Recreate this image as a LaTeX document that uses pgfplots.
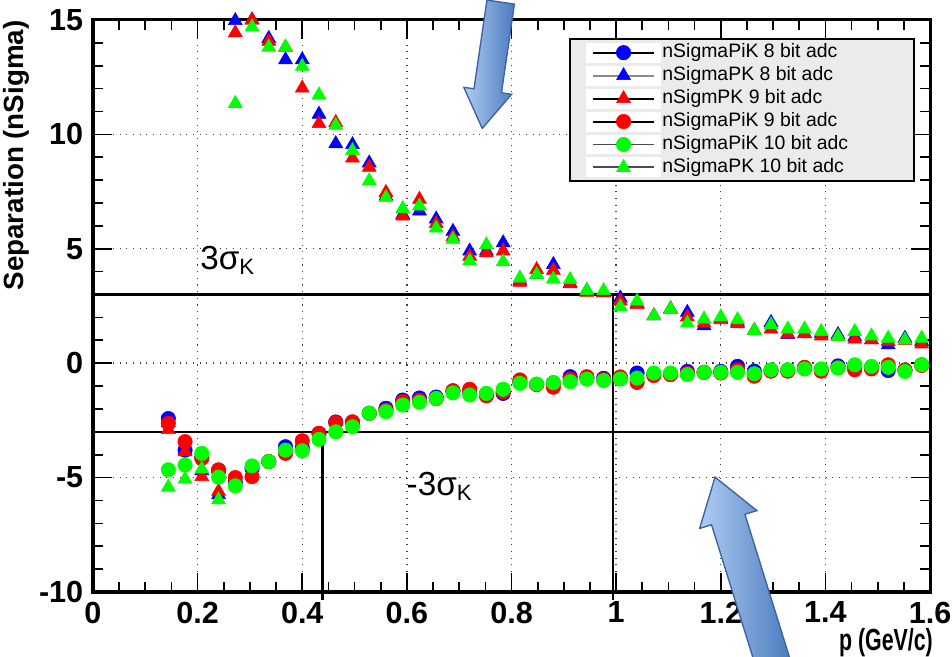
\documentclass[border=0pt]{standalone}
\usepackage{fontspec}
\setmainfont{Liberation Sans}
\usepackage{pgfplots}
\usepackage{pgfplotstable}
\pgfplotsset{compat=1.18}
\usetikzlibrary{calc}

\definecolor{rblue}{RGB}{0,0,255}
\definecolor{rred}{RGB}{255,0,0}
\definecolor{rgreen}{RGB}{0,255,0}
\definecolor{arlight}{RGB}{175,205,242}
\definecolor{ardark}{RGB}{74,122,190}
\definecolor{arline}{RGB}{62,100,165}

% p, then nSigma for each of the six series
\pgfplotstableread{
p     pik8   pk8    pk9    pik9   pik10  pk10
0.144 -2.42  -2.60  -2.90  -2.63  -4.66  -5.42
0.176 -3.80  -3.80  -3.87  -3.43  -4.45  -5.07
0.208 -4.10  -4.70  -4.96  -4.16  -3.94  -4.63
0.240 -4.70  -5.75  -5.60  -4.66  -4.98  -5.97
0.272 -5.20  14.97  14.44  -5.00  -5.36  11.35
0.304 -4.60  15.00  15.00  -4.96  -4.49  14.69
0.336 -4.30  14.19  14.07  -4.30  -4.30  13.81
0.368 -3.65  13.26  13.81  -3.94  -3.80  13.81
0.400 -3.70  13.26  12.02  -3.39  -3.83  12.97
0.432 -3.07  10.88  10.47  -3.07  -3.33  11.72
0.464 -2.57   9.59  10.52  -2.60  -3.00  10.40
0.496 -2.60   9.55   8.96  -2.56  -2.78   9.29
0.528 -2.19   8.75   8.56  -2.19  -2.19   7.97
0.560 -1.97   7.30   7.46  -2.05  -2.12   7.24
0.592 -1.61   6.50   6.43  -1.68  -1.83   6.75
0.624 -1.52   6.65   7.16  -1.62  -1.71   6.87
0.656 -1.48   6.30   6.10  -1.55  -1.54   5.90
0.688 -1.22   5.76   5.52  -1.20  -1.30   5.41
0.720 -1.26   4.90   4.67  -1.14  -1.39   4.47
0.752 -1.36   4.90   4.82  -1.43  -1.32   5.17
0.784 -1.32   5.26   4.90  -1.25  -1.14   4.43
0.816 -0.83   3.60   3.53  -0.73  -0.88   3.72
0.848 -0.93   3.87   4.09  -0.93  -0.91   3.87
0.880 -0.86   4.31   4.06  -1.05  -0.85   3.68
0.912 -0.59   3.50   3.47  -0.70  -0.81   3.65
0.944 -0.66   3.17   3.10  -0.59  -0.70   3.17
0.976 -0.66   3.08   3.08  -0.72  -0.76   3.17
1.008 -0.66   2.85   2.71  -0.60  -0.69   2.46
1.040 -0.43   2.60   2.56  -0.84  -0.65   2.71
1.072 -0.49   2.07   2.07  -0.54  -0.43   2.07
1.104 -0.47   2.37   2.37  -0.50  -0.43   2.37
1.136 -0.36   2.22   2.02  -0.45  -0.50   1.75
1.168 -0.40   1.63   1.75  -0.40  -0.40   1.93
1.200 -0.36   1.95   1.90  -0.43  -0.40   2.02
1.232 -0.14   1.80   1.72  -0.29  -0.40   1.90
1.264 -0.35   1.43   1.43  -0.57  -0.46   1.43
1.296 -0.31   1.78   1.49  -0.35  -0.29   1.68
1.328 -0.31   1.25   1.28  -0.35  -0.29   1.49
1.360 -0.22   1.30   1.28  -0.18  -0.25   1.49
1.392 -0.28   1.30   1.19  -0.35  -0.25   1.38
1.424 -0.12   1.25   1.16  -0.20  -0.21   1.16
1.456 -0.15   1.15   1.05  -0.29  -0.07   1.38
1.488 -0.20   1.02   1.02  -0.25  -0.14   1.19
1.520 -0.32   0.80   0.95  -0.07  -0.18   1.09
1.552 -0.30   1.09   1.00  -0.30  -0.36   1.02
1.584 -0.07   0.95   0.84  -0.10  -0.07   1.09
}\sep

\newcommand{\lent}[1]{\makebox[84pt][l]{#1}}

\pgfplotsset{
  legline/.style={legend image code/.code={
      \fill[white] (-2pt,-3.2pt) rectangle (24pt,3.2pt);
      \draw[#1,line width=0.7pt] (0pt,0pt) -- (22pt,0pt);
      \draw[mark repeat=2,mark phase=2,##1] plot coordinates {(0pt,0pt)(11pt,0pt)(22pt,0pt)};
  }},
  circ/.style={only marks, mark=*, mark size=2.6pt, color=#1,
    mark options={solid, line width=0.2pt}},
  tri/.style={only marks, mark=triangle*, mark size=2.9pt, color=#1,
    mark options={solid, line width=0.2pt}},
}

\begin{document}
\begin{tikzpicture}
\begin{axis}[
  scale only axis,
  width=301.6pt, height=206.1pt,
  xmin=0, xmax=1.6, ymin=-10, ymax=15,
  xtick={0,0.2,0.4,0.6,0.8,1,1.2,1.4,1.6},
  ytick={-10,-5,0,5,10,15},
  minor x tick num=3, minor y tick num=4,
  tick align=inside,
  major tick length=7pt, minor tick length=3.5pt,
  xmajorgrids, ymajorgrids,
  grid style={dotted, black!75, line width=0.5pt},
  axis line style={line width=1.1pt},
  every tick/.style={black, line width=0.6pt},
  ticklabel style={font=\bfseries\fontsize{11}{11}\selectfont},
  /pgf/number format/assume math mode=true,
  xlabel={\scalebox{0.7}[1]{p (GeV/c)}},
  xlabel style={at={(axis description cs:1.004,-0.088)}, anchor=east,
    inner sep=0pt, font=\bfseries\fontsize{11}{11}\selectfont},
  clip=false,
  legend cell align=left,
  legend style={at={(0.982,0.9685)}, anchor=north east,
    fill=black!8, draw=black, line width=0.8pt,
    font=\fontsize{7}{8}\selectfont,
    inner xsep=6pt, inner ysep=1pt, row sep=0.5pt,
    nodes={inner sep=0.6pt}},
]
\addplot[circ=rblue, legline=black] table[x=p, y=pik8] {\sep};
\addplot[tri=rblue, legline=black!45] table[x=p, y=pk8] {\sep};
\addplot[tri=rred, legline=black] table[x=p, y=pk9] {\sep};
\addplot[circ=rred, legline=black] table[x=p, y=pik9] {\sep};
\addplot[circ=rgreen, legline=black!70] table[x=p, y=pik10] {\sep};
\addplot[tri=rgreen, legline=black!70] table[x=p, y=pk10] {\sep};
\legend{\lent{nSigmaPiK 8 bit adc}, \lent{nSigmaPK 8 bit adc},
  \lent{nSigmPK 9 bit adc}, \lent{nSigmaPiK 9 bit adc},
  \lent{nSigmaPiK 10 bit adc}, \lent{nSigmaPK 10 bit adc}}

\draw[line width=0.9pt] (axis cs:0,3) -- (axis cs:1.6,3);
\draw[line width=0.9pt] (axis cs:0,-3) -- (axis cs:1.6,-3);
\draw[line width=1pt] (axis cs:0.438,-3) -- (axis cs:0.438,-10.35);
\draw[line width=1pt] (axis cs:0.994,3) -- (axis cs:0.994,-10.35);

\node[font=\fontsize{12}{12}\selectfont] at (axis cs:0.258,4.5) {3σ\textsubscript{K}};
\node[font=\fontsize{12}{12}\selectfont] at (axis cs:0.663,-5.4) {-3σ\textsubscript{K}};

\coordinate (sw) at (rel axis cs:0,0);
\coordinate (ne) at (rel axis cs:1,1);
\coordinate (tipA) at (axis cs:0.744,10.26);
\coordinate (tipB) at (axis cs:1.189,-4.98);
\end{axis}

\node[rotate=90, anchor=south east, inner sep=0pt,
  font=\bfseries\fontsize{10}{10}\selectfont] at ($(sw|-ne)+(-22.7pt,0)$)
  {Separation (nSigma)};

% annotation arrows
\begin{scope}[shift={(tipA)}]
  \draw[arline, line width=0.5pt, left color=arlight, right color=ardark]
    (0,0) -- (10.59pt,12.30pt) -- (6.93pt,12.83pt) -- (11.59pt,44.80pt)
    -- (1.69pt,46.24pt) -- (-2.97pt,14.28pt) -- (-6.63pt,14.81pt) -- cycle;
\end{scope}
\begin{scope}[shift={(tipB)}]
  \draw[arline, line width=0.5pt, left color=arlight, right color=ardark]
    (0,0) -- (-5.55pt,-18.49pt) -- (-1.26pt,-17.15pt) -- (15.40pt,-70.62pt)
    -- (27.43pt,-66.87pt) -- (10.77pt,-13.40pt) -- (15.07pt,-12.07pt) -- cycle;
\end{scope}

\pgfresetboundingbox
\path[use as bounding box] ($(sw)+(-33.5pt,-23.4pt)$) rectangle ($(ne)+(7.9pt,7.2pt)$);
\end{tikzpicture}
\end{document}
